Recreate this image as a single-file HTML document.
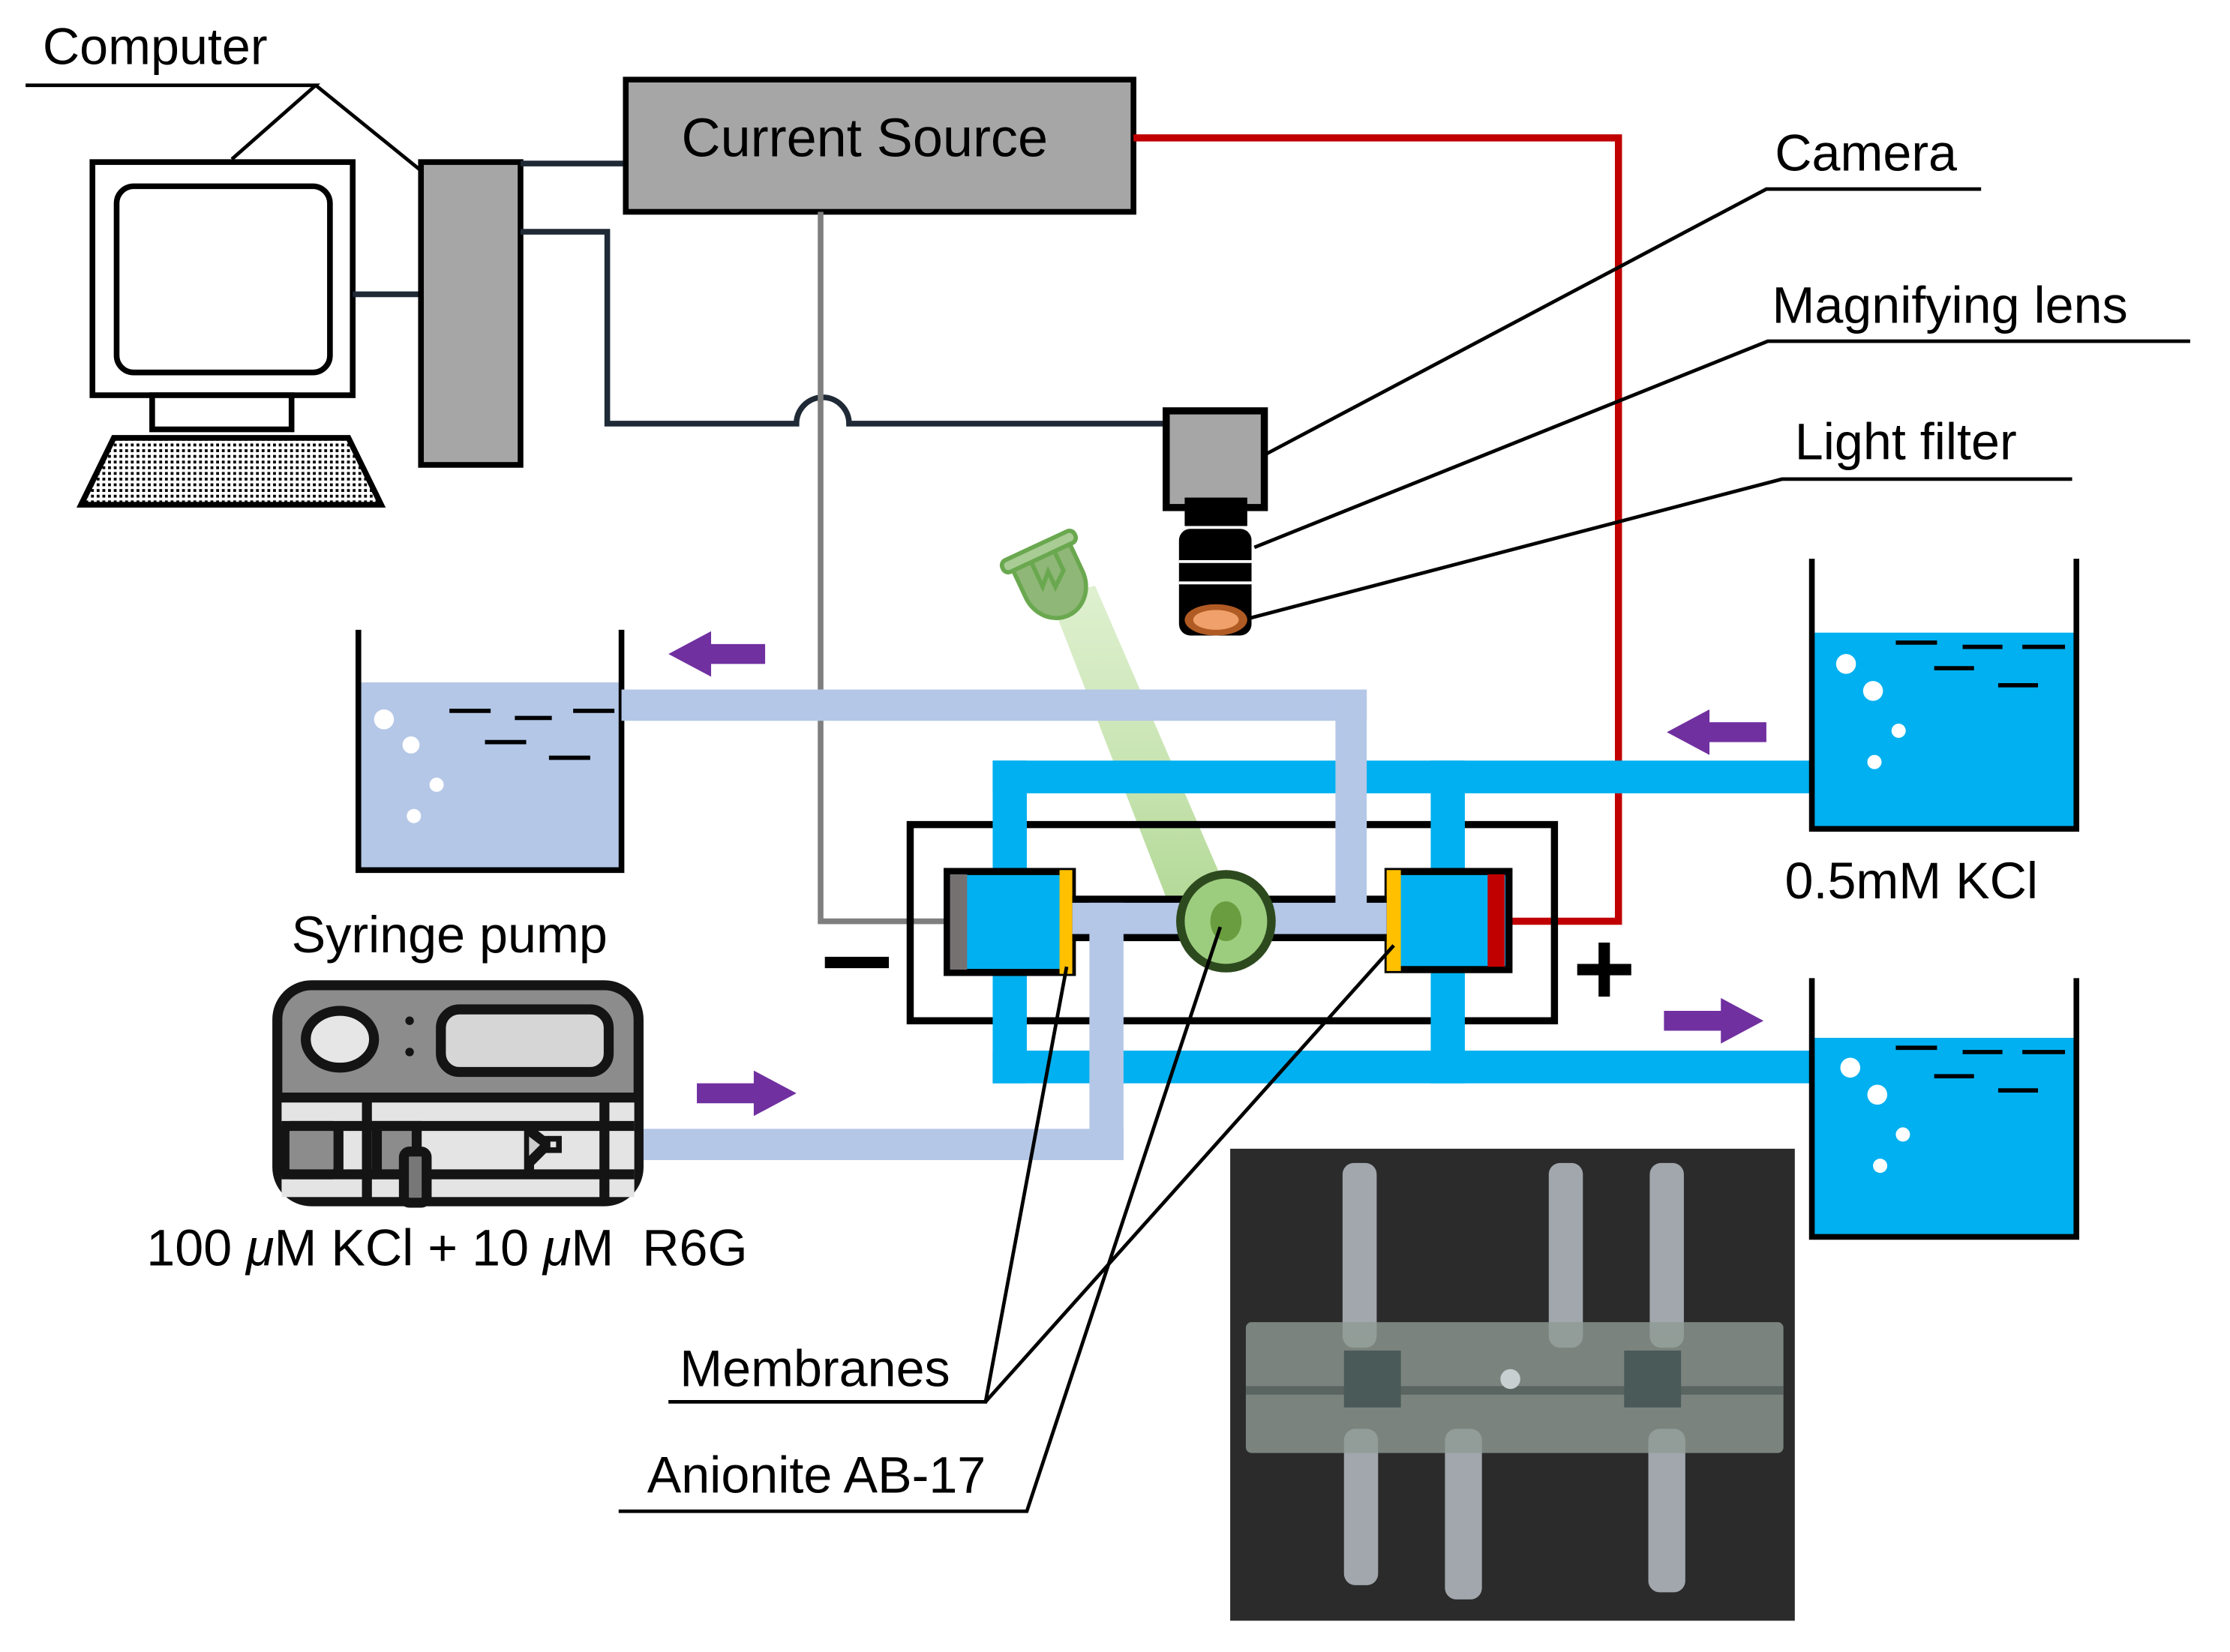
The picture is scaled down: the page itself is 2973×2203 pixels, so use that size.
<!DOCTYPE html>
<html><head><meta charset="utf-8"><style>html,body{margin:0;padding:0;background:#fff}svg{display:block}</style></head><body>
<svg width="2973" height="2203" viewBox="0 0 1568 1162" preserveAspectRatio="none" xmlns="http://www.w3.org/2000/svg" font-family="Liberation Sans, Arial, sans-serif">
<defs>
<linearGradient id="beam" x1="0" y1="0" x2="0" y2="1"><stop offset="0" stop-color="#c9e6b0" stop-opacity="0.6"/><stop offset="1" stop-color="#9ccd78" stop-opacity="0.85"/></linearGradient>
<pattern id="kb" width="4" height="4" patternUnits="userSpaceOnUse"><rect width="4" height="4" fill="#fff"/><rect width="2" height="2" fill="#000"/></pattern>
</defs>
<rect width="1568" height="1162" fill="#fff"/>
<text x="30" y="45" font-size="36">Computer</text>
<polyline points="18,60 222,60 163,112" fill="none" stroke="#000" stroke-width="2.5"/>
<line x1="222" y1="60" x2="296" y2="120" stroke="#000" stroke-width="2.5"/>
<rect x="65" y="114" width="183" height="164" fill="#fff" stroke="#000" stroke-width="4"/>
<rect x="82" y="131" width="150" height="131" rx="12" fill="#fff" stroke="#000" stroke-width="4"/>
<rect x="107" y="278" width="98" height="24" fill="#fff" stroke="#000" stroke-width="4"/>
<polygon points="80,308 245,308 268,355 57,355" fill="url(#kb)" stroke="#000" stroke-width="4"/>
<line x1="248" y1="207" x2="296" y2="207" stroke="#1f2a36" stroke-width="4"/>
<rect x="296" y="114" width="70" height="213" fill="#a6a6a6" stroke="#000" stroke-width="4"/>
<line x1="366" y1="115" x2="440" y2="115" stroke="#1f2a36" stroke-width="4"/>
<path d="M366,163 H427 V298 H560 A18,18 0 0 1 597,298 H820" fill="none" stroke="#1f2a36" stroke-width="4"/>
<rect x="440" y="56" width="357" height="93" fill="#a6a6a6" stroke="#000" stroke-width="4"/>
<text x="608" y="110" font-size="38" text-anchor="middle">Current Source</text>
<polyline points="577,149 577,648 668,648" fill="none" stroke="#7f7f7f" stroke-width="4"/>
<polyline points="797,97 1138,97 1138,648 1058,648" fill="none" stroke="#c00000" stroke-width="5"/>
<rect x="820" y="289" width="69" height="68" fill="#a6a6a6" stroke="#000" stroke-width="5"/>
<rect x="833" y="350" width="44" height="20" fill="#000"/>
<rect x="829" y="372" width="51" height="75" rx="8" fill="#000"/>
<line x1="829" y1="395" x2="880" y2="395" stroke="#fff" stroke-width="2"/>
<line x1="829" y1="410" x2="880" y2="410" stroke="#fff" stroke-width="2"/>
<ellipse cx="855" cy="436" rx="22" ry="11" fill="#b05a24"/>
<ellipse cx="855" cy="436" rx="16" ry="7" fill="#f0a06a"/>
<text x="1248" y="120" font-size="36">Camera</text>
<polyline points="1393,133 1242,133 889,320" fill="none" stroke="#000" stroke-width="2.5"/>
<text x="1246" y="227" font-size="36">Magnifying lens</text>
<polyline points="1540,240 1243,240 882,385" fill="none" stroke="#000" stroke-width="2.5"/>
<text x="1262" y="323" font-size="36">Light filter</text>
<polyline points="1457,337 1253,337 878,435" fill="none" stroke="#000" stroke-width="2.5"/>
<polygon points="738,420 770,412 875,655 835,670" fill="url(#beam)"/>
<g transform="translate(737,402) rotate(-25)">
<path d="M-22,-12 H22 V10 A22,24 0 0 1 -22,10 Z" fill="#8fb777" stroke="#6aa84f" stroke-width="3"/>
<rect x="-28" y="-20" width="56" height="9" rx="4" fill="#a9cc94" stroke="#6aa84f" stroke-width="3"/>
<path d="M-8,-12 V8 L0,0 V12 L10,4 V-12" fill="none" stroke="#6aa84f" stroke-width="3"/>
</g>
<rect x="254" y="480" width="182" height="131" fill="#b4c7e7"/>
<polyline points="252,443 252,612 437,612 437,443" fill="none" stroke="#000" stroke-width="4"/>
<g stroke="#000" stroke-width="3"><line x1="316" y1="500" x2="345" y2="500"/><line x1="362" y1="505" x2="388" y2="505"/><line x1="403" y1="500" x2="432" y2="500"/><line x1="341" y1="522" x2="370" y2="522"/><line x1="386" y1="533" x2="415" y2="533"/></g>
<g fill="#fff"><circle cx="270" cy="506" r="7"/><circle cx="289" cy="524" r="6"/><circle cx="307" cy="552" r="5"/><circle cx="291" cy="574" r="5"/></g>
<g fill="#00b0f0">
<rect x="698" y="535" width="577" height="23"/>
<rect x="698" y="739" width="577" height="23"/>
</g>
<rect x="640" y="580" width="453" height="138" fill="none" stroke="#000" stroke-width="5"/>
<g fill="#00b0f0"><rect x="698" y="535" width="24" height="227"/><rect x="1006" y="535" width="24" height="227"/></g>
<rect x="666" y="613" width="88" height="71" fill="#00b0f0" stroke="#000" stroke-width="5"/>
<rect x="668" y="615" width="12" height="67" fill="#767171"/>
<rect x="745" y="612" width="9" height="73" fill="#ffc000"/>
<rect x="976" y="613" width="85" height="69" fill="#00b0f0" stroke="#000" stroke-width="5"/>
<rect x="975" y="612" width="10" height="71" fill="#ffc000"/>
<rect x="1046" y="615" width="12" height="65" fill="#c00000"/>
<rect x="754" y="630" width="221" height="32" fill="#000"/>
<g fill="#b4c7e7">
<rect x="437" y="485" width="524" height="22"/>
<rect x="939" y="485" width="22" height="170"/>
<rect x="754" y="635" width="221" height="22"/>
<rect x="766" y="635" width="24" height="180"/>
<rect x="440" y="794" width="350" height="22"/>
<polygon points="395,805 440,794 440,816"/>
</g>
<ellipse cx="862" cy="648" rx="35" ry="36" fill="#2d4a1e"/>
<ellipse cx="862" cy="648" rx="29" ry="30" fill="#9ccd7e"/>
<ellipse cx="862" cy="648" rx="11" ry="14" fill="#6a9d3f"/>
<rect x="580" y="673" width="45" height="8" fill="#000"/>
<rect x="1109" y="678" width="38" height="8" fill="#000"/>
<rect x="1124" y="663" width="8" height="38" fill="#000"/>
<rect x="1275" y="445" width="184" height="137" fill="#00b0f0"/>
<polyline points="1274,393 1274,583 1460,583 1460,393" fill="none" stroke="#000" stroke-width="4"/>
<g stroke="#000" stroke-width="3"><line x1="1333" y1="452" x2="1362" y2="452"/><line x1="1380" y1="455" x2="1408" y2="455"/><line x1="1422" y1="455" x2="1452" y2="455"/><line x1="1360" y1="470" x2="1388" y2="470"/><line x1="1405" y1="482" x2="1433" y2="482"/></g>
<g fill="#fff"><circle cx="1298" cy="467" r="7"/><circle cx="1317" cy="486" r="7"/><circle cx="1335" cy="514" r="5"/><circle cx="1318" cy="536" r="5"/></g>
<text x="1255" y="632" font-size="36">0.5mM KCl</text>
<rect x="1275" y="730" width="184" height="139" fill="#00b0f0"/>
<polyline points="1274,688 1274,870 1460,870 1460,688" fill="none" stroke="#000" stroke-width="4"/>
<g stroke="#000" stroke-width="3"><line x1="1333" y1="737" x2="1362" y2="737"/><line x1="1380" y1="740" x2="1408" y2="740"/><line x1="1422" y1="740" x2="1452" y2="740"/><line x1="1360" y1="757" x2="1388" y2="757"/><line x1="1405" y1="767" x2="1433" y2="767"/></g>
<g fill="#fff"><circle cx="1301" cy="751" r="7"/><circle cx="1320" cy="770" r="7"/><circle cx="1338" cy="798" r="5"/><circle cx="1322" cy="820" r="5"/></g>
<g fill="#7030a0">
<polygon points="538,453 500,453 500,444 470,460 500,476 500,467 538,467"/>
<polygon points="1242,508 1202,508 1202,499 1172,515 1202,531 1202,522 1242,522"/>
<polygon points="1170,711 1210,711 1210,702 1240,718 1210,734 1210,725 1170,725"/>
<polygon points="490,762 530,762 530,753 560,769 530,785 530,776 490,776"/>
</g>
<text x="205" y="670" font-size="36">Syringe pump</text>
<g stroke="#141414" stroke-width="7">
<rect x="195" y="693" width="254" height="152" rx="24" fill="#8c8c8c"/>
<rect x="198" y="772" width="248" height="70" fill="#e4e4e4" stroke="none"/>
<line x1="195" y1="772" x2="449" y2="772"/>
<ellipse cx="239" cy="731" rx="24" ry="20" fill="#e6e6e6"/>
<rect x="310" y="710" width="118" height="44" rx="13" fill="#d6d6d6"/>
<line x1="198" y1="792" x2="446" y2="792"/>
<line x1="198" y1="826" x2="446" y2="826"/>
<line x1="258" y1="772" x2="258" y2="845"/>
<line x1="425" y1="772" x2="425" y2="845"/>
<rect x="200" y="792" width="38" height="34" rx="4" fill="#8c8c8c"/>
<rect x="265" y="792" width="28" height="34" fill="#8c8c8c"/>
<rect x="284" y="810" width="16" height="36" rx="4" fill="#777"/>
<line x1="372" y1="792" x2="372" y2="826"/>
<polyline points="372,795 385,805 372,818" fill="#ccc"/>
</g>
<rect x="385" y="801" width="8" height="8" fill="#e4e4e4" stroke="#141414" stroke-width="4"/>
<circle cx="288" cy="718" r="3" fill="#141414"/><circle cx="288" cy="740" r="3" fill="#141414"/>
<text x="103" y="890" font-size="36" xml:space="preserve">100 <tspan font-style="italic">μ</tspan>M KCl + 10 <tspan font-style="italic">μ</tspan>M  R6G</text>
<text x="478" y="975" font-size="36">Membranes</text>
<polyline points="470,986 693,986 750,680" fill="none" stroke="#000" stroke-width="2.5"/>
<line x1="693" y1="986" x2="980" y2="665" stroke="#000" stroke-width="2.5"/>
<text x="455" y="1050" font-size="36">Anionite AB-17</text>
<polyline points="435,1063 722,1063 858,652" fill="none" stroke="#000" stroke-width="2.5"/>
<rect x="865" y="808" width="397" height="332" fill="#2b2b2b"/>
<g fill="#c9d2d8" opacity="0.75">
<rect x="944" y="818" width="24" height="130" rx="8"/>
<rect x="1089" y="818" width="24" height="130" rx="8"/>
<rect x="1160" y="818" width="24" height="130" rx="8"/>
<rect x="945" y="1005" width="24" height="110" rx="8"/>
<rect x="1016" y="1005" width="26" height="120" rx="8"/>
<rect x="1159" y="1005" width="26" height="115" rx="8"/>
</g>
<rect x="876" y="930" width="378" height="92" rx="4" fill="#8f9a94" opacity="0.8"/>
<rect x="876" y="975" width="378" height="6" fill="#5a6460"/>
<rect x="945" y="950" width="40" height="40" fill="#4a5a58"/>
<rect x="1142" y="950" width="40" height="40" fill="#4a5a58"/>
<circle cx="1062" cy="970" r="7" fill="#c8cfd0"/>
</svg>
</body></html>
